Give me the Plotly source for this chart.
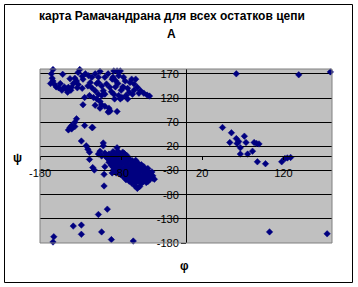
import plotly.graph_objects as go

# ---- data: (phi, psi) ----
beta_phi = [-164, -166, -165, -164, -160, -157, -152, -150, -148, -145, -142, -146, -141, -131, -133, -137, -135, -133, -134, -127,
            -124, -120, -116, -112, -108, -108, -121, -116, -112, -125, -127, -119, -114, -110, -106, -102, -98, -94, -100, -96,
            -91, -87, -85, -83, -104, -100, -95, -94, -104, -108, -89, -90, -87, -89, -88, -77, -75, -77, -83, -79,
            -74, -72, -69, -64, -60, -56, -52, -48, -45, -70, -66, -85, -62, -67, -81, -94, -96, -78, -81, -112,
            -106, -167, -162, -155, -153, -139, -128, -118, -104, -100, -92, -84, -80, -72, -64, -58, -110, -106, -128, -143]
beta_psi = [179, 170, 161, 155, 143, 141, 169, 143, 139, 142, 136, 132, 142, 179, 173, 161, 155, 148, 141, 159,
            170, 166, 163, 170, 163, 152, 145, 141, 135, 121, 106, 125, 121, 118, 113, 135, 149, 142, 163, 170,
            159, 156, 176, 166, 106, 103, 99, 92, 125, 128, 176, 163, 143, 128, 118, 163, 155, 142, 125, 121,
            125, 118, 152, 149, 142, 135, 130, 126, 124, 132, 128, 92, 159, 159, 176, 94, 91, 143, 118, 105,
            99, 150, 148, 150, 136, 150, 140, 152, 145, 128, 133, 150, 136, 140, 136, 130, 150, 175, 165, 160]

bridge_phi = [-135, -137, -141, -143, -125, -116, -145, -141, -137, -115]
bridge_psi = [77, 70, 63, 59, 63, 59, 54, 56, 61, 59]

left_phi = [-129, -123, -121, -119, -119, -115, -113, -108, -106, -102, -104, -102, -100, -101, -91, -101, -108, -97,
            -139, -129, -129, -104, -92, -163, -164, -65, -85, -84, -97, -90]
left_psi = [31, 21, 14, 8, -7, -24, -29, 4, 10, 21, 0, 27, -22, -38, -35, -62, -121, -110,
            -145, -143, -162, -157, -173, -167, -178, -176, 17, 8, -4, -23]

alpha_phi = [-100, -95, -89, -81, -76, -98, -93, -86, -80, -74, -69, -95, -88, -83, -76, -71, -65, -59,
             -92, -86, -80, -74, -68, -63, -57, -52, -89, -84, -78, -72, -66, -61, -55, -49,
             -86, -80, -74, -69, -63, -57, -51, -45, -78, -72, -66, -61, -55, -49, -43,
             -74, -68, -62, -57, -51, -45, -39, -67, -61, -55, -49, -63, -57, -60, -90, -84, -78,
             -97, -91, -85, -79, -73, -90, -83, -77, -71, -66, -62, -91, -85, -79, -73, -67, -61, -55,
             -87, -81, -75, -69, -64, -58, -53, -47, -83, -77, -71, -65, -59, -53, -47, -42,
             -81, -75, -69, -64, -58, -52, -46, -41, -75, -69, -64, -58, -52, -46, -41,
             -70, -64, -58, -53, -47]
alpha_psi = [6, 4, 7, 3, 5, -3, -5, -2, -6, -4, -7, -13, -11, -14, -12, -10, -13, -15,
             -19, -21, -18, -22, -20, -23, -19, -22, -28, -26, -29, -27, -30, -26, -28, -30,
             -35, -33, -36, -34, -37, -33, -36, -38, -42, -40, -43, -41, -44, -42, -43,
             -49, -47, -50, -48, -51, -49, -48, -56, -55, -57, -55, -62, -63, -67, 9, 10, 8,
             1, 0, 2, -1, 1, -8, -9, -7, -8, -10, -9, -16, -17, -15, -16, -17, -16, -18,
             -24, -25, -23, -24, -25, -24, -25, -26, -31, -32, -30, -31, -32, -31, -32, -33,
             -38, -39, -38, -40, -39, -38, -40, -41, -45, -46, -45, -46, -47, -45, -46,
             -52, -53, -52, -53, -53]

right_phi = [62, 139, 178, 45, 56, 54, 62, 65, 63, 67, 72, 74, 67, 76, 82, 84, 87, 90, 88, 98, 118, 122, 125, 129, 103, 174]
right_psi = [170, 168, 174, 59, 48, 28, 36, 30, 26, 17, 41, 28, 4, 4, 10, 28, 26, 25, -12, -16, -12, -5, -4, -3, -157, -161]

x_ticks = [-180, -80, 20, 120]
y_ticks = [-180, -130, -80, -30, 20, 70, 120, 170]

title_line1 = "карта Рамачандрана для всех остатков цепи"
title_line2 = "А"
x_title = "φ"
y_title = "ψ"

phi = beta_phi + bridge_phi + left_phi + alpha_phi + right_phi
psi = beta_psi + bridge_psi + left_psi + alpha_psi + right_psi

FONT = "Liberation Sans, Arial, sans-serif"

fig = go.Figure(go.Scatter(
    x=phi, y=psi, mode="markers", cliponaxis=False,
    marker=dict(symbol="diamond", size=5, color="#000080", line=dict(width=0.5, color="#000080")),
    hoverinfo="x+y",
))

W, H = 358, 287
L, R, T, B = 40, 26, 69, 44
pw, ph = W - L - R, H - T - B


def px_x(X):
    return (X - L) / pw


def px_y(Y):
    return (H - B - Y) / ph


fig.update_layout(
    width=W, height=H,
    margin=dict(l=L, r=R, t=T, b=B, pad=0),
    paper_bgcolor="white", plot_bgcolor="#C0C0C0",
    showlegend=False,
    font=dict(family=FONT, size=11, color="black"),
    xaxis=dict(range=[-180, 180], anchor="free", position=0.5,
               showline=True, linecolor="black", linewidth=1,
               showgrid=False, zeroline=False,
               ticks="outside", ticklen=3, tickcolor="black", tickwidth=1,
               tickvals=x_ticks, ticktext=[str(v) for v in x_ticks],
               tickfont=dict(family=FONT, size=11, color="black"),
               ticklabelstandoff=4, fixedrange=True),
    yaxis=dict(range=[-180, 180], anchor="free", position=0.5,
               showline=True, linecolor="black", linewidth=1,
               showgrid=True, gridcolor="black", gridwidth=1, zeroline=False,
               ticks="outside", ticklen=5, tickcolor="black", tickwidth=1,
               tickvals=y_ticks, ticktext=[str(v) for v in y_ticks],
               tickfont=dict(family=FONT, size=11, color="black"),
               fixedrange=True),
    shapes=[
        dict(type="rect", xref="paper", yref="paper", x0=0, x1=1, y0=0, y1=1,
             line=dict(color="#808080", width=1), fillcolor="rgba(0,0,0,0)", layer="above"),
        dict(type="rect", xref="paper", yref="paper",
             x0=px_x(4.5), x1=px_x(352.5), y0=px_y(282.5), y1=px_y(4.5),
             line=dict(color="black", width=1), fillcolor="rgba(0,0,0,0)", layer="above"),
    ],
    annotations=[
        dict(text="<b>" + title_line1 + "</b>", xref="paper", yref="paper",
             x=px_x(172), y=px_y(16), xanchor="center", yanchor="middle", showarrow=False,
             font=dict(family=FONT, size=12, color="black")),
        dict(text="<b>" + title_line2 + "</b>", xref="paper", yref="paper",
             x=px_x(171), y=px_y(34), xanchor="center", yanchor="middle", showarrow=False,
             font=dict(family=FONT, size=12, color="black")),
        dict(text="<b>" + y_title + "</b>", xref="paper", yref="paper",
             x=px_x(17), y=px_y(158), xanchor="center", yanchor="middle", showarrow=False,
             font=dict(family=FONT, size=12, color="black")),
        dict(text="<b>" + x_title + "</b>", xref="paper", yref="paper",
             x=px_x(184), y=px_y(265.5), xanchor="center", yanchor="middle", showarrow=False,
             font=dict(family=FONT, size=12, color="black")),
    ],
)

fig.write_html("out.html")
